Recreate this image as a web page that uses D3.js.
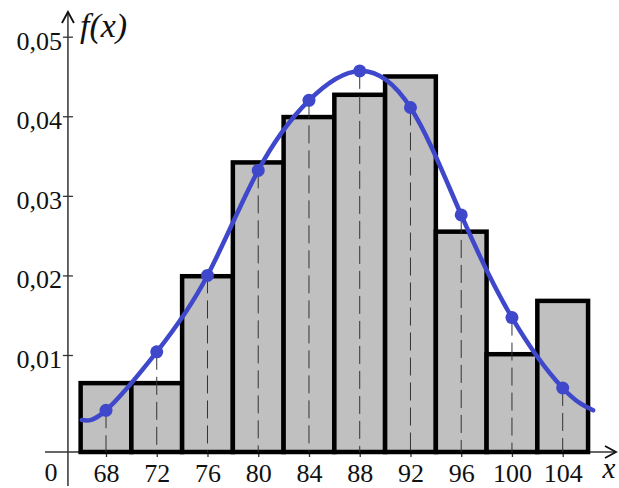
<!DOCTYPE html>
<html>
<head>
<meta charset="utf-8">
<script src="https://cdn.jsdelivr.net/npm/d3@7"></script>
<style>
  html, body { margin: 0; padding: 0; background: #fff; }
  svg { display: block; }
</style>
</head>
<body>
<svg id="chart" width="619" height="488"></svg>
<script>
// Histogram of relative frequency density with a fitted normal curve
const classMids = [68, 72, 76, 80, 84, 88, 92, 96, 100, 104];
const classWidth = 4;
const density = [0.0071, 0.0071, 0.0199, 0.0342, 0.0399, 0.0427, 0.0450, 0.0255, 0.0101, 0.0168];

// Fitted density: values at the class midpoints plus both ends of the curve
const curveX = [66.1, 68, 72, 76, 80, 84, 88, 92, 96, 100, 104, 106.4];
const curveY = [0.0033, 0.0043, 0.0104, 0.0200, 0.0332, 0.0420, 0.0457, 0.0411, 0.0276, 0.0147, 0.0066, 0.0043];

const yTicks = [0.01, 0.02, 0.03, 0.04, 0.05];
const xTicks = [68, 72, 76, 80, 84, 88, 92, 96, 100, 104];

const svg = d3.select("#chart");
const serif = "Liberation Serif";

// x axis starts at 65 (broken from 0); y axis compressed below 0,01
const x = d3.scaleLinear().domain([68, 104]).range([106, 562.7]);
const y = d3.scaleLinear().domain([0, 0.01, 0.05]).range([452, 355, 36.7]);

const axisX0 = x(65);
const axisY0 = y(0);
const ink = "#333";

// --- axes ---
const axes = svg.append("g");
axes.append("line")
  .attr("x1", 45).attr("x2", 616)
  .attr("y1", axisY0).attr("y2", axisY0)
  .attr("stroke", ink).attr("stroke-width", 1.5);
axes.append("path")
  .attr("d", `M605,${axisY0 - 6}L616,${axisY0}L605,${axisY0 + 6}`)
  .attr("fill", "none").attr("stroke", "#111").attr("stroke-width", 1.8);
axes.append("line")
  .attr("x1", axisX0).attr("x2", axisX0)
  .attr("y1", 486).attr("y2", 12)
  .attr("stroke", ink).attr("stroke-width", 1.5);
axes.append("path")
  .attr("d", `M${axisX0 - 6},23L${axisX0},12L${axisX0 + 6},23`)
  .attr("fill", "none").attr("stroke", "#111").attr("stroke-width", 1.8);

const fmt = d3.formatLocale({ decimal: ",", thousands: " ", grouping: [3], currency: ["", ""] }).format(".2f");

const yAxis = axes.append("g")
  .attr("transform", `translate(${axisX0},0)`)
  .call(d3.axisLeft(y).tickValues(yTicks).tickFormat(fmt).tickSize(5).tickPadding(1))
  .attr("font-family", serif).attr("font-size", 26);
yAxis.select(".domain").remove();
yAxis.selectAll(".tick line").attr("x1", -5).attr("x2", 5).attr("stroke", ink).attr("stroke-width", 1.3);
yAxis.selectAll(".tick text").attr("fill", "#111").attr("dy", "0.48em");

const xAxis = axes.append("g")
  .attr("transform", `translate(0,${axisY0})`)
  .call(d3.axisBottom(x).tickValues(xTicks).tickFormat(d3.format("d")).tickSize(5).tickPadding(7))
  .attr("font-family", serif).attr("font-size", 26);
xAxis.select(".domain").remove();
xAxis.selectAll(".tick line").attr("stroke", ink).attr("stroke-width", 1.3);
xAxis.selectAll(".tick text").attr("fill", "#111");

axes.append("text")
  .attr("x", 51).attr("y", 481)
  .attr("text-anchor", "middle")
  .attr("font-family", serif)
  .attr("font-size", 26)
  .attr("fill", "#111")
  .text("0");

// --- histogram bars ---
svg.append("g").selectAll("rect")
  .data(classMids)
  .join("rect")
  .attr("x", (d) => x(d - classWidth / 2))
  .attr("width", (d) => x(d + classWidth / 2) - x(d - classWidth / 2))
  .attr("y", (d, i) => y(density[i]))
  .attr("height", (d, i) => axisY0 - y(density[i]))
  .attr("fill", "#c0c0c0")
  .attr("stroke", "#000")
  .attr("stroke-width", 4.5);

// --- dashed ordinates from the curve to the axis ---
svg.append("g").selectAll("line")
  .data(classMids)
  .join("line")
  .attr("x1", (d) => x(d)).attr("x2", (d) => x(d))
  .attr("y1", (d) => y(curveY[curveX.indexOf(d)]))
  .attr("y2", axisY0)
  .attr("stroke", "#333")
  .attr("stroke-width", 1)
  .attr("stroke-dasharray", "18,7");

// --- normal curve ---
const pts = curveX.map((v, i) => [v, curveY[i]]);
const line = d3.line()
  .x((d) => x(d[0]))
  .y((d) => y(d[1]))
  .curve(d3.curveNatural);

const blue = "#3f47cb";
svg.append("path")
  .datum(pts)
  .attr("d", line)
  .attr("fill", "none")
  .attr("stroke", blue)
  .attr("stroke-width", 4.5)
  .attr("stroke-linecap", "round");

svg.append("g").selectAll("circle")
  .data(pts.filter((p) => classMids.includes(p[0])))
  .join("circle")
  .attr("cx", (d) => x(d[0]))
  .attr("cy", (d) => y(d[1]))
  .attr("r", 6.5)
  .attr("fill", blue);

// --- axis titles ---
svg.append("text")
  .attr("x", 80).attr("y", 37)
  .attr("font-family", serif)
  .attr("font-size", 34)
  .attr("font-style", "italic")
  .attr("fill", "#111")
  .text("f(x)");

svg.append("text")
  .attr("x", 609).attr("y", 478)
  .attr("text-anchor", "middle")
  .attr("font-family", serif)
  .attr("font-size", 29)
  .attr("font-style", "italic")
  .attr("fill", "#111")
  .text("x");
</script>
</body>
</html>
